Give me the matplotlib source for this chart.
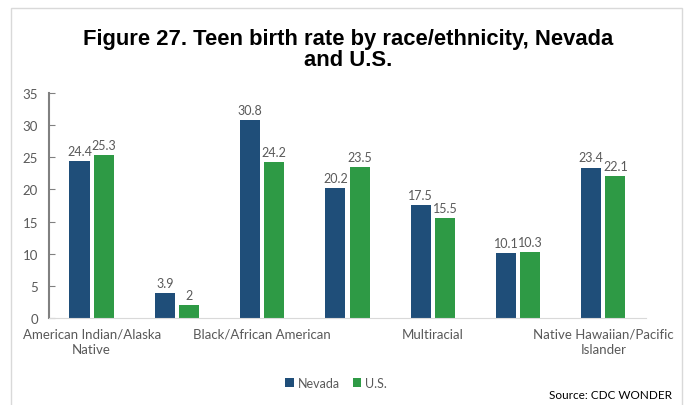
import matplotlib.pyplot as plt
import numpy as np
from matplotlib.patches import Rectangle

categories = ['American Indian/Alaska\nNative', 'Asian', 'Black/African American', 'Hispanic',
              'Multiracial', 'White', 'Native Hawaiian/Pacific\nIslander']
nevada = [24.4, 3.9, 30.8, 20.2, 17.5, 10.1, 23.4]
us = [25.3, 2, 24.2, 23.5, 15.5, 10.3, 22.1]
shown = [0, 2, 4, 6]  # excel drops every other category label

navy = '#1f4e79'
green = '#2e9a45'
gray = '#595959'

plt.rcParams['font.family'] = ['Lato', 'DejaVu Sans']

fig = plt.figure(figsize=(6.86, 4.06), dpi=100)
ax = fig.add_axes([0.0714, 0.2143, 0.8703, 0.5542])

x = np.arange(len(categories))
w = 0.235
b1 = ax.bar(x - 0.142, nevada, w, color=navy, label='Nevada')
b2 = ax.bar(x + 0.142, us, w, color=green, label='U.S.')
ax.bar_label(b1, padding=3, color=gray, fontsize=9)
ax.bar_label(b2, padding=3, color=gray, fontsize=9)

ax.set_xlim(-0.5, len(categories) - 0.5)
ax.set_ylim(0, 35)
ax.set_yticks(range(0, 36, 5))
ax.set_xticks(x)
ax.set_xticklabels([c if i in shown else '' for i, c in enumerate(categories)], linespacing=1.3)
ax.tick_params(axis='x', length=0, pad=7, labelsize=9.5, labelcolor=gray)
ax.tick_params(axis='y', direction='in', length=4, color='#808080', labelsize=9.5,
               labelcolor=gray, pad=8)
for s in ['top', 'right']:
    ax.spines[s].set_visible(False)
ax.spines['left'].set_color('#808080')
ax.spines['left'].set_linewidth(1.5)
ax.spines['bottom'].set_color('#d9d9d9')

fig.text(0.507, 0.877, 'Figure 27. Teen birth rate by race/ethnicity, Nevada\nand U.S.',
         ha='center', va='center', fontsize=15.8, fontweight='bold',
         family='Liberation Sans', linespacing=1.05)

fig.legend(loc='center', bbox_to_anchor=(0.49, 0.055), ncol=2, frameon=False,
           fontsize=9, handlelength=0.7, handleheight=0.7, handletextpad=0.3,
           columnspacing=1.0, labelcolor=gray)
fig.text(0.98, 0.027, 'Source: CDC WONDER', ha='right', va='center', fontsize=8.5)

fig.add_artist(Rectangle((11 / 686, -0.05), 671 / 686, 1.028, transform=fig.transFigure,
                         fill=False, ec='#d9d9d9', lw=1))

plt.savefig('out.png')
